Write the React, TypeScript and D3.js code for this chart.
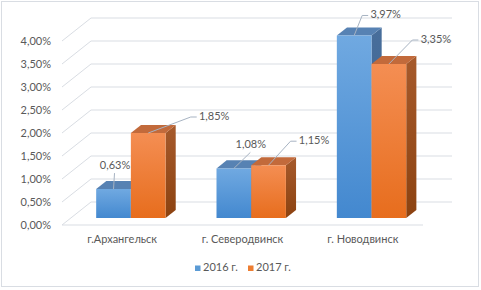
import React from "react";
import * as d3 from "d3";

const categories = ["г.Архангельск", "г. Северодвинск", "г. Новодвинск"];
const seriesNames = ["2016 г.", "2017 г."];
const values2016 = [0.63, 1.08, 3.97];
const values2017 = [1.85, 1.15, 3.35];
const yTickValues = [0, 0.5, 1, 1.5, 2, 2.5, 3, 3.5, 4];
// label text-centre offsets relative to the bar's front-top centre
const labelOffsets2016 = [[1.5, -23], [17, -23], [31.5, -20]];
const labelOffsets2017 = [[66, -16], [45.5, -24], [47, -24]];

const W = 481;
const H = 290;
const FONT = "Lato, 'Noto Sans', sans-serif";
const TEXT = "#595959";

const floorLeft = 62;
const floorRight = 423;
const depthX = 29;
const depthY = -23;
const barFront = 0.3;
const barBack = 0.65;
const wallRight = 452;

const fmt = (v: number) => d3.format(".2f")(v).replace(".", ",") + "%";

const styles = [
  { front: "url(#gBlue)", top: "#5782b3", side: "url(#gBlueSide)", legend: "#5b9bd5" },
  { front: "url(#gOrange)", top: "#c26a3b", side: "url(#gOrangeSide)", legend: "#ed7d31" },
];

export default function App() {
  const y = d3.scaleLinear().domain([0, 4]).range([225, 41]);
  const x = d3
    .scaleBand<string>()
    .domain(categories)
    .range([floorLeft, floorRight])
    .paddingInner(0.4233)
    .paddingOuter(0.2117);
  const xs = d3.scaleBand<string>().domain(seriesNames).range([0, x.bandwidth()]);

  const series = [
    { name: seriesNames[0], values: values2016, offsets: labelOffsets2016 },
    { name: seriesNames[1], values: values2017, offsets: labelOffsets2017 },
  ];

  const P = (px: number, v: number, t: number) => [px + t * depthX, y(v) + t * depthY];
  const pts = (arr: number[][]) => arr.map((p) => p.join(",")).join(" ");

  const bars: any[] = [];
  const labels: any[] = [];
  series.forEach((s, si) => {
    s.values.forEach((v, ci) => {
      const x0 = (x(categories[ci]) as number) + (xs(s.name) as number);
      const x1 = x0 + xs.bandwidth();
      const ftl = P(x0, v, barFront);
      const ftr = P(x1, v, barFront);
      const fbl = P(x0, 0, barFront);
      const fbr = P(x1, 0, barFront);
      const btl = P(x0, v, barBack);
      const btr = P(x1, v, barBack);
      const bbr = P(x1, 0, barBack);
      const st = styles[si];
      bars.push(
        <g key={`b${si}-${ci}`}>
          <polygon points={pts([ftr, btr, bbr, fbr])} fill={st.side} />
          <polygon points={pts([ftl, ftr, btr, btl])} fill={st.top} />
          <polygon points={pts([ftl, ftr, fbr, fbl])} fill={st.front} />
        </g>
      );
      const ax = (ftl[0] + ftr[0]) / 2;
      const ay = ftl[1];
      const [dx, dy] = s.offsets[ci];
      const cx = ax + dx;
      const cy = ay + dy;
      const tw = 31;
      const left = cx - tw / 2;
      let d: string;
      if (left - ax > 10) {
        d = `M${ax},${ay} L${left - 8},${cy} L${left - 2},${cy}`;
      } else {
        d = `M${ax},${ay} L${cx - 0.5},${cy + 7}`;
      }
      labels.push(
        <g key={`l${si}-${ci}`}>
          <path d={d} fill="none" stroke="#a7b3c2" strokeWidth={1} />
          <text x={cx} y={cy} textAnchor="middle" dominantBaseline="middle" fontSize={11} fill={TEXT} fontFamily={FONT}>
            {fmt(v)}
          </text>
        </g>
      );
    });
  });

  return (
    <svg width={W} height={H} style={{ position: "absolute", left: 0, top: 0, background: "#fff" }}>
      <defs>
        <linearGradient id="gBlue" x1="0" y1="0" x2="0" y2="1">
          <stop offset="0" stopColor="#70a9e1" />
          <stop offset="1" stopColor="#4388cf" />
        </linearGradient>
        <linearGradient id="gBlueSide" x1="0" y1="0" x2="0" y2="1">
          <stop offset="0" stopColor="#486e9b" />
          <stop offset="1" stopColor="#3b6290" />
        </linearGradient>
        <linearGradient id="gOrange" x1="0" y1="0" x2="0" y2="1">
          <stop offset="0" stopColor="#f48e53" />
          <stop offset="1" stopColor="#e76d1d" />
        </linearGradient>
        <linearGradient id="gOrangeSide" x1="0" y1="0" x2="0" y2="1">
          <stop offset="0" stopColor="#a65a2c" />
          <stop offset="1" stopColor="#8c4210" />
        </linearGradient>
      </defs>
      <rect x={1.5} y={1.5} width={477} height={285} fill="#fff" stroke="#d9dde3" strokeWidth={1} />
      <g>
        {yTickValues.map((v) => {
          const yf = y(v);
          return (
            <polyline
              key={`g${v}`}
              points={pts([
                [floorLeft, yf],
                [floorLeft + depthX, yf + depthY],
                [wallRight, yf + depthY],
              ])}
              fill="none"
              stroke="#d9dde3"
              strokeWidth={1}
            />
          );
        })}
        <line x1={floorLeft} x2={floorRight} y1={y(0)} y2={y(0)} stroke="#d9dde3" strokeWidth={1} />
      </g>
      <g>
        {yTickValues.map((v) => (
          <text key={`t${v}`} x={51} y={y(v) + 1} textAnchor="end" dominantBaseline="middle" fontSize={11} fill={TEXT} fontFamily={FONT}>
            {fmt(v)}
          </text>
        ))}
      </g>
      {bars}
      {labels}
      <g>
        {categories.map((c) => (
          <text key={c} x={(x(c) as number) + x.bandwidth() / 2} y={240} textAnchor="middle" dominantBaseline="middle" fontSize={11} fill={TEXT} fontFamily={FONT}>
            {c}
          </text>
        ))}
      </g>
      <g>
        {seriesNames.map((n, i) => {
          const lx = 195 + i * 53;
          return (
            <g key={n}>
              <rect x={lx} y={265.5} width={5.5} height={5.5} fill={styles[i].legend} />
              <text x={lx + 8} y={268.5} dominantBaseline="middle" fontSize={11} fill={TEXT} fontFamily={FONT}>
                {n}
              </text>
            </g>
          );
        })}
      </g>
    </svg>
  );
}
